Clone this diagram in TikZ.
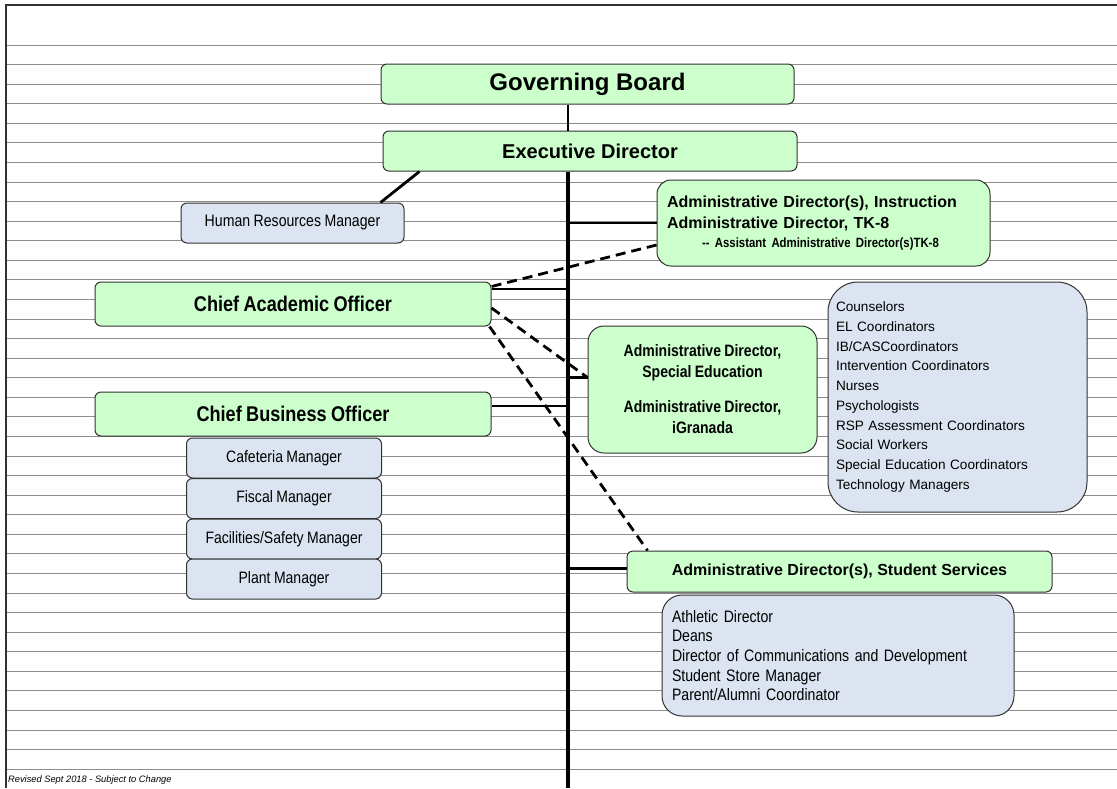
\documentclass[tikz,border=0pt]{standalone}
\usepackage{fontspec}
\setmainfont{Liberation Sans}
\newfontfamily\narrowfont[FakeStretch=0.85,WordSpace=0.88]{Liberation Sans}
\definecolor{orggreen}{RGB}{204,255,204}
\definecolor{orgblue}{RGB}{219,228,240}
\definecolor{orgline}{RGB}{50,50,50}
\definecolor{ruleline}{RGB}{140,140,140}

\begin{document}
\begin{tikzpicture}[x=1pt,y=-1pt,
  greenbox/.style={draw=orgline, fill=orggreen, line width=1pt, rounded corners=6pt, inner sep=0pt},
  bluebox/.style={draw=orgline, fill=orgblue, line width=1pt, rounded corners=6pt, inner sep=0pt},
  link/.style={line width=2.8pt},
  dashlink/.style={line width=2.8pt, dash pattern=on 10pt off 6pt}]
\useasboundingbox[fill=white] (0,0) rectangle (1117,788);

% ruled background
\foreach \i in {0,...,37} {
    \draw[ruleline, line width=0.9pt] (6,45+\i*19.57) -- (1117,45+\i*19.57);
}
\draw[orgline, line width=1.3pt] (6,788) -- (6,5) -- (1117,5);

% Top of the chart
\node[greenbox, minimum width=413pt, minimum height=40pt, font=\fontsize{24}{28}\selectfont\bfseries] (gb) at (587.5,84) {Governing Board};
\node[greenbox, minimum width=414pt, minimum height=40pt, font=\fontsize{20}{24}\selectfont\bfseries] (ed) at (590,151) {Executive Director};
\node[bluebox, minimum width=223pt, minimum height=40pt, font=\narrowfont\fontsize{16.6}{20}\selectfont] (hr) at (292.5,223) {Human Resources Manager};

% Left branch
\node[greenbox, minimum width=396pt, minimum height=44pt, font=\narrowfont\fontsize{21.3}{25}\selectfont\bfseries] (cao) at (293,304) {Chief Academic Officer};
\node[greenbox, minimum width=396pt, minimum height=44pt, font=\narrowfont\fontsize{21.3}{25}\selectfont\bfseries] (cbo) at (293,414) {Chief Business Officer};
\foreach \name/\txt/\y in {cafe/Cafeteria Manager/458, fiscal/Fiscal Manager/498.5, safety/{Facilities/Safety Manager}/539, plant/Plant Manager/579} {
    \node[bluebox, minimum width=195pt, minimum height=40pt, font=\narrowfont\fontsize{16.5}{20}\selectfont] (\name) at (284,\y) {\txt};
}

% Right branch
\node[greenbox, rounded corners=14pt, minimum width=333pt, minimum height=86pt, text width=313pt, align=left, font=\fontsize{16}{21}\selectfont\bfseries] (instr) at (823.5,223) {Administrative Director(s), Instruction\\Administrative Director, TK-8\\[-2.7pt]{\narrowfont\fontsize{13.4}{16}\selectfont\hspace*{35pt}-{}- Assistant Administrative Director(s)TK-8}};
\node[greenbox, rounded corners=16pt, minimum width=229pt, minimum height=127pt, align=center, font=\narrowfont\fontsize{16.5}{21}\selectfont\bfseries] (sped) at (702.5,389.5) {Administrative Director,\\Special Education\\[14pt]Administrative Director,\\iGranada};
\node[bluebox, rounded corners=30pt, minimum width=259pt, minimum height=230pt, text width=243pt, align=left, font=\fontsize{13.6}{19.7}\selectfont] (staff) at (957.5,397) {Counselors\\EL Coordinators\\IB/CASCoordinators\\Intervention Coordinators\\Nurses\\Psychologists\\RSP Assessment Coordinators\\Social Workers\\Special Education Coordinators\\Technology Managers};
\node[greenbox, minimum width=425pt, minimum height=41pt, font=\fontsize{16}{20}\selectfont\bfseries] (ss) at (839.5,571.5) {Administrative Director(s), Student Services};
\node[bluebox, rounded corners=20pt, minimum width=352pt, minimum height=121pt, text width=332pt, align=left, font=\narrowfont\fontsize{16.6}{19.6}\selectfont] (sslist) at (838,655.5) {Athletic Director\\Deans\\Director of Communications and Development\\Student Store Manager\\Parent/Alumni Coordinator};

\node[anchor=base west, inner sep=0pt, font=\fontsize{9.3}{11}\selectfont\itshape] (note) at (8,782) {Revised Sept 2018 - Subject to Change};

% Spine and links
\coordinate (spine) at (568,788);
\coordinate (caoout) at ([yshift=15pt]cao.east);
\coordinate (cboout) at ([yshift=8pt]cbo.east);
\coordinate (spedin) at ([yshift=12pt]sped.west);
\coordinate (ssin) at ([yshift=3pt]ss.west);
\draw[line width=2.2pt] (gb.south -| spine) -- (ed.north -| spine);
\draw[line width=3.2pt] (ed.south -| spine) -- (spine);
\draw[link] ([xshift=37pt]ed.south west) -- ([xshift=-24pt]hr.north east);
\draw[link] (instr.west -| spine) -- (instr.west);
\draw[link] (caoout) -- (caoout -| spine);
\draw[link] (cboout) -- (cboout -| spine);
\draw[link] (spedin -| spine) -- (spedin);
\draw[link] (ssin -| spine) -- (ssin);

% dotted-line reports
\draw[dashlink] ([yshift=-22pt]instr.west) -- ([yshift=-5pt]cao.north east);
\draw[dashlink] ([yshift=-4pt]cao.east) -- (spedin);
\draw[dashlink] ([xshift=-2pt]cao.south east) -- ([xshift=21pt]ss.north west);
\end{tikzpicture}
\end{document}
